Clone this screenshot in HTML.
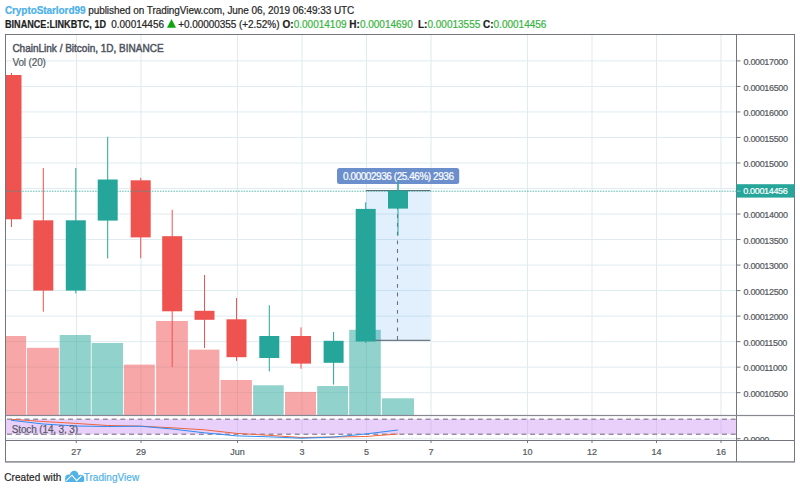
<!DOCTYPE html>
<html><head><meta charset="utf-8"><style>
html,body{margin:0;padding:0;background:#fff;width:800px;height:491px;overflow:hidden;position:relative}
.t{position:absolute;font-family:"Liberation Sans",sans-serif;white-space:pre;line-height:10px;-webkit-text-stroke:0.2px currentColor}
svg{position:absolute;left:0;top:0}
</style></head><body>
<svg width="800" height="491" viewBox="0 0 800 491">
<defs><clipPath id="cp"><rect x="6" y="35" width="730" height="380.4"/></clipPath></defs><g clip-path="url(#cp)">
<rect x="6" y="60.40" width="730" height="1" fill="#dfebf0"/>
<rect x="6" y="85.92" width="730" height="1" fill="#dfebf0"/>
<rect x="6" y="111.44" width="730" height="1" fill="#dfebf0"/>
<rect x="6" y="136.96" width="730" height="1" fill="#dfebf0"/>
<rect x="6" y="162.48" width="730" height="1" fill="#dfebf0"/>
<rect x="6" y="188.00" width="730" height="1" fill="#dfebf0"/>
<rect x="6" y="213.52" width="730" height="1" fill="#dfebf0"/>
<rect x="6" y="239.04" width="730" height="1" fill="#dfebf0"/>
<rect x="6" y="264.56" width="730" height="1" fill="#dfebf0"/>
<rect x="6" y="290.08" width="730" height="1" fill="#dfebf0"/>
<rect x="6" y="315.60" width="730" height="1" fill="#dfebf0"/>
<rect x="6" y="341.12" width="730" height="1" fill="#dfebf0"/>
<rect x="6" y="366.64" width="730" height="1" fill="#dfebf0"/>
<rect x="6" y="392.16" width="730" height="1" fill="#dfebf0"/>
<rect x="76.00" y="35" width="1" height="405" fill="#dfebf0"/>
<rect x="140.50" y="35" width="1" height="405" fill="#dfebf0"/>
<rect x="237.00" y="35" width="1" height="405" fill="#dfebf0"/>
<rect x="301.50" y="35" width="1" height="405" fill="#dfebf0"/>
<rect x="366.00" y="35" width="1" height="405" fill="#dfebf0"/>
<rect x="430.50" y="35" width="1" height="405" fill="#dfebf0"/>
<rect x="527.00" y="35" width="1" height="405" fill="#dfebf0"/>
<rect x="591.50" y="35" width="1" height="405" fill="#dfebf0"/>
<rect x="656.00" y="35" width="1" height="405" fill="#dfebf0"/>
<rect x="720.50" y="35" width="1" height="405" fill="#dfebf0"/>
<rect x="5.30" y="336.00" width="20.80" height="79.30" fill="rgba(239,80,80,0.5)"/>
<rect x="27.00" y="347.80" width="31.90" height="67.50" fill="rgba(239,80,80,0.5)"/>
<rect x="59.70" y="335.00" width="31.10" height="80.30" fill="rgba(38,166,154,0.5)"/>
<rect x="91.60" y="343.00" width="31.40" height="72.30" fill="rgba(38,166,154,0.5)"/>
<rect x="123.80" y="364.60" width="31.00" height="50.70" fill="rgba(239,80,80,0.5)"/>
<rect x="156.10" y="321.00" width="31.80" height="94.30" fill="rgba(239,80,80,0.5)"/>
<rect x="189.10" y="349.60" width="30.30" height="65.70" fill="rgba(239,80,80,0.5)"/>
<rect x="220.60" y="380.00" width="31.30" height="35.30" fill="rgba(239,80,80,0.5)"/>
<rect x="253.10" y="385.30" width="30.60" height="30.00" fill="rgba(38,166,154,0.5)"/>
<rect x="285.00" y="391.90" width="31.00" height="23.40" fill="rgba(239,80,80,0.5)"/>
<rect x="317.20" y="386.00" width="30.80" height="29.30" fill="rgba(38,166,154,0.5)"/>
<rect x="349.20" y="329.80" width="31.60" height="85.50" fill="rgba(38,166,154,0.5)"/>
<rect x="382.00" y="398.30" width="32.00" height="17.00" fill="rgba(38,166,154,0.5)"/>
<rect x="366" y="190.6" width="64.3" height="149.7" fill="rgba(33,140,243,0.13)"/>
<rect x="366" y="190.1" width="64.3" height="1" fill="#555a66"/>
<rect x="366" y="339.8" width="64.3" height="1" fill="#555a66"/>
<line x1="397.5" y1="205.6" x2="397.5" y2="340" stroke="#6e7179" stroke-width="1.1" stroke-dasharray="3.8,4.9"/>
<rect x="11.00" y="73.00" width="1" height="154.00" fill="#ef5350"/>
<rect x="1.50" y="75.00" width="20" height="144.30" fill="#ef5350"/>
<rect x="42.80" y="168.00" width="1" height="143.70" fill="#ef5350"/>
<rect x="33.30" y="220.30" width="20" height="70.30" fill="#ef5350"/>
<rect x="75.30" y="168.00" width="1" height="125.40" fill="#26a69a"/>
<rect x="65.80" y="220.30" width="20" height="70.30" fill="#26a69a"/>
<rect x="107.20" y="136.80" width="1" height="121.60" fill="#26a69a"/>
<rect x="97.70" y="179.50" width="20" height="41.10" fill="#26a69a"/>
<rect x="140.20" y="177.80" width="1" height="80.40" fill="#ef5350"/>
<rect x="130.70" y="180.30" width="20" height="57.10" fill="#ef5350"/>
<rect x="171.70" y="209.80" width="1" height="157.20" fill="#ef5350"/>
<rect x="162.20" y="236.20" width="20" height="75.10" fill="#ef5350"/>
<rect x="204.00" y="275.00" width="1" height="73.00" fill="#ef5350"/>
<rect x="194.50" y="310.80" width="20" height="9.00" fill="#ef5350"/>
<rect x="236.00" y="298.00" width="1" height="62.90" fill="#ef5350"/>
<rect x="226.50" y="319.30" width="20" height="37.90" fill="#ef5350"/>
<rect x="268.80" y="305.20" width="1" height="66.20" fill="#26a69a"/>
<rect x="259.30" y="336.00" width="20" height="22.00" fill="#26a69a"/>
<rect x="300.50" y="327.40" width="1" height="41.30" fill="#ef5350"/>
<rect x="291.00" y="336.00" width="20" height="27.60" fill="#ef5350"/>
<rect x="333.10" y="332.00" width="1" height="52.60" fill="#26a69a"/>
<rect x="323.60" y="340.80" width="20" height="22.00" fill="#26a69a"/>
<rect x="365.20" y="202.30" width="1" height="140.70" fill="#26a69a"/>
<rect x="355.70" y="208.90" width="20" height="132.60" fill="#26a69a"/>
<rect x="397.50" y="180.80" width="1" height="55.00" fill="#26a69a"/>
<rect x="388.00" y="190.60" width="20" height="18.00" fill="#26a69a"/>
</g>
<rect x="76.00" y="416.6" width="1" height="23.4" fill="#dfebf0"/>
<rect x="140.50" y="416.6" width="1" height="23.4" fill="#dfebf0"/>
<rect x="237.00" y="416.6" width="1" height="23.4" fill="#dfebf0"/>
<rect x="301.50" y="416.6" width="1" height="23.4" fill="#dfebf0"/>
<rect x="366.00" y="416.6" width="1" height="23.4" fill="#dfebf0"/>
<rect x="430.50" y="416.6" width="1" height="23.4" fill="#dfebf0"/>
<rect x="527.00" y="416.6" width="1" height="23.4" fill="#dfebf0"/>
<rect x="591.50" y="416.6" width="1" height="23.4" fill="#dfebf0"/>
<rect x="656.00" y="416.6" width="1" height="23.4" fill="#dfebf0"/>
<rect x="720.50" y="416.6" width="1" height="23.4" fill="#dfebf0"/>
<line x1="6" y1="191.2" x2="736" y2="191.2" stroke="#26a69a" stroke-width="1" stroke-dasharray="1.6,1.1" opacity="0.75"/>
<rect x="6" y="438" width="730" height="1.3" fill="#e6edf2"/>
<rect x="6" y="419.2" width="730" height="15" fill="rgba(205,150,247,0.45)"/>
<line x1="7" y1="419.25" x2="736" y2="419.25" stroke="#9890a2" stroke-width="1.3" stroke-dasharray="4.9,3.82"/>
<line x1="7" y1="434.25" x2="736" y2="434.25" stroke="#9890a2" stroke-width="1.3" stroke-dasharray="4.9,3.82"/>
<polyline points="11.0,419.25 43.2,421.5 75.5,423.4 107.7,425.5 139.9,426.1 172.1,427.8 204.4,429.8 236.6,433.4 268.8,435.3 301.1,437.5 333.3,437 365.5,436.5 397.8,434" fill="none" stroke="#f2643c" stroke-width="1" stroke-linejoin="round"/>
<polyline points="11.0,420.25 43.2,424 75.5,426 107.7,426.5 139.9,426.2 172.1,429 204.4,432.8 236.6,435.9 268.8,436.8 301.1,438.2 333.3,437.1 365.5,434 397.8,430" fill="none" stroke="#2f8cf2" stroke-width="1" stroke-linejoin="round"/>
<rect x="5" y="34" width="790" height="1" fill="#737680"/>
<rect x="5" y="34" width="1" height="428" fill="#737680"/>
<rect x="794" y="34" width="1" height="428" fill="#737680"/>
<rect x="736" y="34" width="1" height="428" fill="#737680"/>
<rect x="5" y="414.9" width="790" height="1.2" fill="#858892"/>
<rect x="5" y="440" width="790" height="1" fill="#737680"/>
<rect x="5" y="461.2" width="790" height="1.4" fill="#7d808a"/>
<rect x="737" y="60.40" width="3.5" height="1" fill="#737680"/>
<rect x="737" y="85.92" width="3.5" height="1" fill="#737680"/>
<rect x="737" y="111.44" width="3.5" height="1" fill="#737680"/>
<rect x="737" y="136.96" width="3.5" height="1" fill="#737680"/>
<rect x="737" y="162.48" width="3.5" height="1" fill="#737680"/>
<rect x="737" y="213.52" width="3.5" height="1" fill="#737680"/>
<rect x="737" y="239.04" width="3.5" height="1" fill="#737680"/>
<rect x="737" y="264.56" width="3.5" height="1" fill="#737680"/>
<rect x="737" y="290.08" width="3.5" height="1" fill="#737680"/>
<rect x="737" y="315.60" width="3.5" height="1" fill="#737680"/>
<rect x="737" y="341.12" width="3.5" height="1" fill="#737680"/>
<rect x="737" y="366.64" width="3.5" height="1" fill="#737680"/>
<rect x="737" y="392.16" width="3.5" height="1" fill="#737680"/>
<rect x="75.75" y="440" width="1" height="3" fill="#737680"/>
<rect x="140.50" y="440" width="1" height="3" fill="#737680"/>
<rect x="237.00" y="440" width="1" height="3" fill="#737680"/>
<rect x="301.50" y="440" width="1" height="3" fill="#737680"/>
<rect x="366.00" y="440" width="1" height="3" fill="#737680"/>
<rect x="430.50" y="440" width="1" height="3" fill="#737680"/>
<rect x="527.00" y="440" width="1" height="3" fill="#737680"/>
<rect x="591.50" y="440" width="1" height="3" fill="#737680"/>
<rect x="656.00" y="440" width="1" height="3" fill="#737680"/>
<rect x="720.50" y="440" width="1" height="3" fill="#737680"/>
<rect x="736.5" y="184.2" width="58" height="13.4" fill="#26a69a"/>
<rect x="737" y="190.6" width="3.5" height="1" fill="rgba(255,255,255,0.45)"/>
<rect x="737" y="438.2" width="3.5" height="1" fill="#737680"/>
<rect x="337" y="167.9" width="122.2" height="16.1" rx="2.5" fill="#6b8fcc"/>
<rect x="397.5" y="180.8" width="1" height="10" fill="#26a69a"/>
<polygon points="167,27.8 176,27.8 171.5,19" fill="#0ca60c"/>
<g fill="#52b3e6"><circle cx="68.8" cy="478.2" r="3.6"/><circle cx="74.2" cy="475" r="4.3"/><circle cx="80.6" cy="478.3" r="3.6"/><rect x="65.2" y="478" width="19" height="3.9" rx="1.5"/></g>
<polyline points="66.3,480.6 72,475.2 76.6,480.6 81.5,475.8" fill="none" stroke="#fff" stroke-width="1.1"/>
</svg>
<div class="t" style="left:4.9px;top:6.1px;font-size:10px;color:#262626;font-weight:400;letter-spacing:0px;"><span style="color:#4ab0ea;font-weight:700;letter-spacing:-0.07px">CryptoStarlord99</span><span style="letter-spacing:-0.06px"> published on TradingView.com, June 06, 2019 06:49:33 UTC</span></div>
<div class="t" style="left:5.2px;top:20.3px;font-size:10px;color:#1e1e1e;font-weight:400;letter-spacing:0px;transform:scaleX(0.909);transform-origin:0 0"><b>BINANCE:LINKBTC, 1D</b></div>
<div class="t" style="left:111.2px;top:20.3px;font-size:10px;color:#262626;font-weight:400;letter-spacing:0px;">0.00014456</div>
<div class="t" style="left:178.2px;top:20.3px;font-size:10px;color:#262626;font-weight:400;letter-spacing:-0.05px;">+0.00000355 (+2.52%)</div>
<div class="t" style="left:282.6px;top:20.3px;font-size:10px;color:#222;font-weight:400;letter-spacing:0px;"><b>O:</b><span style="color:#36b440">0.00014109</span> <b>H:</b><span style="color:#36b440">0.00014690</span></div>
<div class="t" style="left:418.0px;top:20.3px;font-size:10px;color:#222;font-weight:400;letter-spacing:0px;"><b>L:</b><span style="color:#36b440">0.00013555</span></div>
<div class="t" style="left:483.0px;top:20.3px;font-size:10px;color:#222;font-weight:400;letter-spacing:0px;"><b>C:</b><span style="color:#36b440">0.00014456</span></div>
<div class="t" style="left:12.4px;top:43.8px;font-size:10px;color:#50545f;font-weight:400;letter-spacing:0px;-webkit-text-stroke:0.45px #50545f">ChainLink / Bitcoin, 1D, BINANCE</div>
<div class="t" style="left:12.4px;top:58.4px;font-size:10px;color:#555961;font-weight:400;letter-spacing:-0.13px;">Vol (20)</div>
<div class="t" style="left:11.7px;top:425.3px;font-size:10px;color:#555961;font-weight:400;letter-spacing:-0.13px;">Stoch (14, 3, 3)</div>
<div class="t" style="left:4.2px;top:472.8px;font-size:10px;color:#262626;font-weight:400;letter-spacing:0.09px;">Created with</div>
<div class="t" style="left:83.7px;top:472.8px;font-size:10px;color:#52b3e6;font-weight:400;letter-spacing:0.04px;">TradingView</div>
<div class="t" style="left:743.6px;top:57.0px;font-size:9px;color:#555960;font-weight:400;letter-spacing:-0.35px;">0.00017000</div>
<div class="t" style="left:743.6px;top:82.52px;font-size:9px;color:#555960;font-weight:400;letter-spacing:-0.35px;">0.00016500</div>
<div class="t" style="left:743.6px;top:108.04px;font-size:9px;color:#555960;font-weight:400;letter-spacing:-0.35px;">0.00016000</div>
<div class="t" style="left:743.6px;top:133.56px;font-size:9px;color:#555960;font-weight:400;letter-spacing:-0.35px;">0.00015500</div>
<div class="t" style="left:743.6px;top:159.08px;font-size:9px;color:#555960;font-weight:400;letter-spacing:-0.35px;">0.00015000</div>
<div class="t" style="left:743.6px;top:210.12px;font-size:9px;color:#555960;font-weight:400;letter-spacing:-0.35px;">0.00014000</div>
<div class="t" style="left:743.6px;top:235.64px;font-size:9px;color:#555960;font-weight:400;letter-spacing:-0.35px;">0.00013500</div>
<div class="t" style="left:743.6px;top:261.16px;font-size:9px;color:#555960;font-weight:400;letter-spacing:-0.35px;">0.00013000</div>
<div class="t" style="left:743.6px;top:286.68px;font-size:9px;color:#555960;font-weight:400;letter-spacing:-0.35px;">0.00012500</div>
<div class="t" style="left:743.6px;top:312.2px;font-size:9px;color:#555960;font-weight:400;letter-spacing:-0.35px;">0.00012000</div>
<div class="t" style="left:743.6px;top:337.72px;font-size:9px;color:#555960;font-weight:400;letter-spacing:-0.35px;">0.00011500</div>
<div class="t" style="left:743.6px;top:363.24px;font-size:9px;color:#555960;font-weight:400;letter-spacing:-0.35px;">0.00011000</div>
<div class="t" style="left:743.6px;top:388.76px;font-size:9px;color:#555960;font-weight:400;letter-spacing:-0.35px;">0.00010500</div>
<div class="t" style="left:743.3px;top:185.7px;font-size:9px;color:#ffffff;font-weight:400;letter-spacing:-0.35px;">0.00014456</div>
<div style="position:absolute;left:740px;top:416.6px;width:54px;height:23.4px;overflow:hidden"><div class="t" style="left:3.6px;top:18.3px;font-size:9px;color:#555960;letter-spacing:-0.35px">0.0000</div></div>
<div class="t c" style="left:46.25px;top:446.7px;width:60px;text-align:center;font-size:9px;color:#555960">27</div>
<div class="t c" style="left:111px;top:446.7px;width:60px;text-align:center;font-size:9px;color:#555960">29</div>
<div class="t c" style="left:207.5px;top:446.7px;width:60px;text-align:center;font-size:9px;color:#555960">Jun</div>
<div class="t c" style="left:272px;top:446.7px;width:60px;text-align:center;font-size:9px;color:#555960">3</div>
<div class="t c" style="left:336.5px;top:446.7px;width:60px;text-align:center;font-size:9px;color:#555960">5</div>
<div class="t c" style="left:401px;top:446.7px;width:60px;text-align:center;font-size:9px;color:#555960">7</div>
<div class="t c" style="left:497.5px;top:446.7px;width:60px;text-align:center;font-size:9px;color:#555960">10</div>
<div class="t c" style="left:562px;top:446.7px;width:60px;text-align:center;font-size:9px;color:#555960">12</div>
<div class="t c" style="left:626.5px;top:446.7px;width:60px;text-align:center;font-size:9px;color:#555960">14</div>
<div class="t c" style="left:691px;top:446.7px;width:60px;text-align:center;font-size:9px;color:#555960">16</div>
<div class="t" style="left:343.1px;top:171.9px;font-size:10px;color:#ffffff;font-weight:400;letter-spacing:-0.45px;">0.00002936 (25.46%) 2936</div>
</body></html>
